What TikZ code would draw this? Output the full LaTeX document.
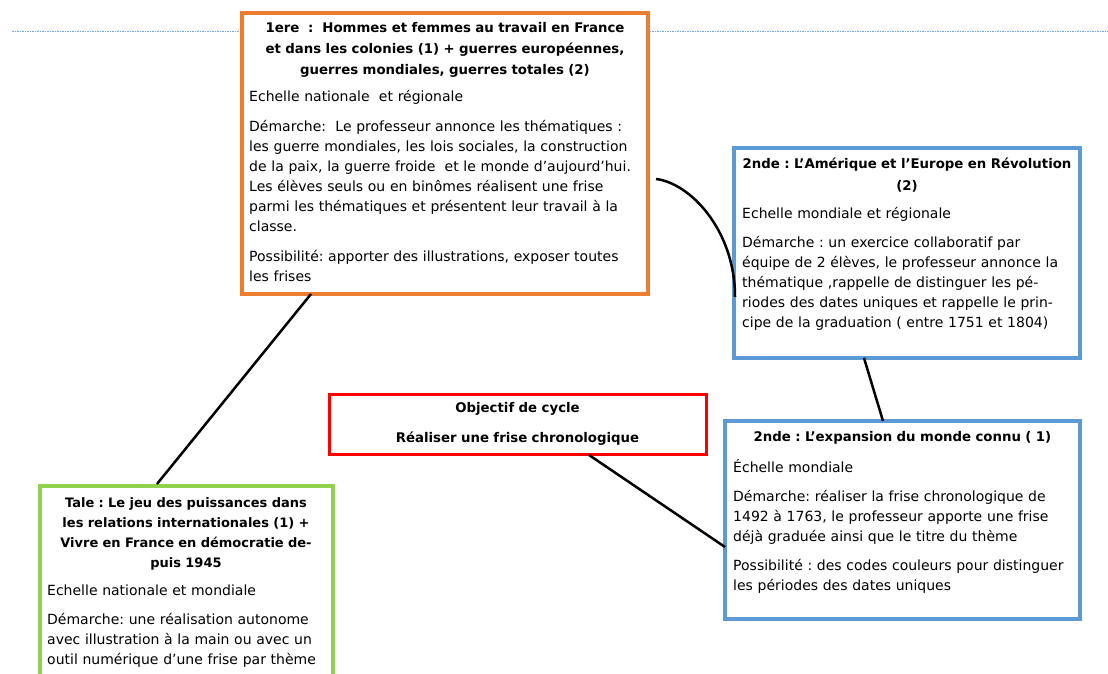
\documentclass[tikz,border=0pt]{standalone}
\usepackage{fontspec}
\setmainfont{DejaVu Sans}
\frenchspacing
\definecolor{orangeb}{HTML}{ED7D31}
\definecolor{blueb}{HTML}{5B9BD5}
\definecolor{greenb}{HTML}{92D050}
\definecolor{redb}{HTML}{FF0000}
\definecolor{dotb}{HTML}{6FA8E6}
\begin{document}
\begin{tikzpicture}[x=1pt,y=-1pt,
  box/.style={draw=#1, line width=3.5pt, fill=white, inner sep=0pt, outer sep=0pt, anchor=north west},
  ttl/.style={anchor=base, inner sep=0pt, text width=500pt, align=center, font=\fontsize{13.3}{21}\selectfont\bfseries},
  body/.style={anchor=base west, inner sep=0pt, text width=500pt, align=left, font=\fontsize{14}{20}\selectfont},
  link/.style={line width=2.5pt, draw=black}]
\useasboundingbox (0,0) rectangle (1108,674);
\fill[white] (0,0) rectangle (1108,674);
% dotted guide line
\coordinate (dl) at (12,31.5);
\coordinate (dr) at (1108,31.5);
\draw[dotb, line width=1pt, dash pattern=on 1.5pt off 1pt] (dl) -- (dr);
% boxes
\node[box=orangeb, minimum width=406pt, minimum height=281pt] (o) at (242,13) {};
\node[box=blueb, minimum width=346pt, minimum height=210pt] (b1) at (734,148) {};
\node[box=redb, line width=3pt, minimum width=377pt, minimum height=60pt] (r) at (329,394) {};
\node[box=blueb, minimum width=355pt, minimum height=198pt] (b2) at (725,421) {};
\node[box=greenb, minimum width=293pt, minimum height=230pt] (g) at (40,486) {};
% orange texts
\node[ttl] (ot) at (445,33) {1ere\ \ :\ \ Hommes et femmes au travail en France\\et dans les colonies (1) + guerres européennes,\\guerres mondiales, guerres totales (2)};
\node[body] (ob) at (249,102) {Echelle nationale\ \ et régionale\\[10pt]
Démarche:\ \ Le professeur annonce les thématiques :\\
les guerre mondiales, les lois sociales, la construction\\
de la paix, la guerre froide\ \ et le monde d’aujourd’hui.\\
Les élèves seuls ou en binômes réalisent une frise\\
parmi les thématiques et présentent leur travail à la\\
classe.\\[10pt]
Possibilité: apporter des illustrations, exposer toutes\\
les frises};
% blue 1
\node[ttl] (b1t) at (907,168) {2nde : L'Amérique et l'Europe en Révolution\\[1pt](2)};
\node[body] (b1b) at (742,218) {Echelle mondiale et régionale\\[9pt]
Démarche : un exercice collaboratif par\\
équipe de 2 élèves, le professeur annonce la\\
thématique ,rappelle de distinguer les pé-\\
riodes des dates uniques et rappelle le prin-\\
cipe de la graduation ( entre 1751 et 1804)};
% red
\node[ttl] (rt) at (517.5,412) {Objectif de cycle\\[9pt]Réaliser une frise chronologique};
% blue 2
\node[ttl] (b2t) at (902.5,441) {2nde : L’expansion du monde connu ( 1)};
\node[body] (b2b) at (733,472) {Échelle mondiale\\[9pt]
Démarche: réaliser la frise chronologique de\\
1492 à 1763, le professeur apporte une frise\\
déjà graduée ainsi que le titre du thème\\[9pt]
Possibilité : des codes couleurs pour distinguer\\
les périodes des dates uniques};
% green
\node[ttl, font=\fontsize{13}{20}\selectfont\bfseries] (gt) at (186,507) {Tale : Le jeu des puissances dans\\les relations internationales (1) +\\Vivre en France en démocratie de-\\puis 1945};
\node[body] (gb) at (47,595) {Echelle nationale et mondiale\\[9pt]
Démarche: une réalisation autonome\\
avec illustration à la main ou avec un\\
outil numérique d’une frise par thème};
% connectors
\draw[link] ([shift={(69,0)}]o.south west) -- ([shift={(117,-2)}]g.north west);
\draw[link] ([shift={(8,166)}]o.north east) .. controls +(34,4) and +(0,-67) .. ([shift={(1,149)}]b1.north west);
\draw[link] ([shift={(130,0)}]b1.south west) -- ([shift={(158,0)}]b2.north west);
\draw[link] ([shift={(260,1)}]r.south west) -- ([shift={(0,126)}]b2.north west);
\end{tikzpicture}
\end{document}
